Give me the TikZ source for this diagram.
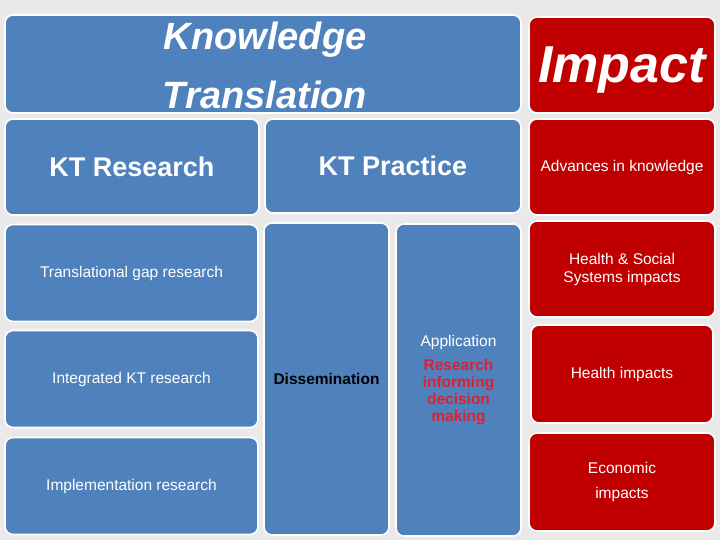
\documentclass[tikz,border=0pt]{standalone}
\usepackage{fontspec}
\setmainfont{Liberation Sans}
\usepackage{tikz}
\definecolor{ktblue}{RGB}{79,129,189}
\definecolor{impactred}{RGB}{192,0,0}
\definecolor{notered}{RGB}{222,32,48}
\definecolor{bggray}{RGB}{233,233,233}
\def\redline#1{\textcolor{notered}{\textbf{#1}}}

\begin{document}
\begin{tikzpicture}[x=1pt,y=-1pt]
    \tikzstyle{panel}=[rectangle,rounded corners=8pt,draw=white,line width=1.6pt,inner sep=2pt,align=center,text=white]
    \tikzstyle{kt panel}=[panel,fill=ktblue]
    \tikzstyle{impact panel}=[panel,fill=impactred,minimum width=186pt]
    \tikzstyle{title}=[font=\fontsize{38}{59}\selectfont\bfseries\itshape]
    \tikzstyle{heading}=[font=\fontsize{27}{32}\selectfont\bfseries]
    \tikzstyle{body}=[font=\fontsize{15.5}{18}\selectfont]

    % Background
    \fill[bggray] (0,0) rectangle (720,540);

    % Draw the title row
    \node[kt panel,title,minimum width=516pt,minimum height=98pt] (KT) at (263,64) {};
    \node[title,text=white,align=center] (KT-text) at (265,65) {Knowledge\\Translation};
    \node[impact panel,font=\fontsize{52}{56}\selectfont\bfseries\itshape,text depth=0pt,minimum height=96pt] (Impact) at (622,65)
        {Impact};

    % Draw the heading row
    \node[kt panel,heading,minimum width=254pt,minimum height=96pt] (KTR) at (132,167) {KT Research};
    \node[kt panel,heading,minimum width=256pt,minimum height=94pt] (KTP) at (393,166) {KT Practice};
    \node[impact panel,body,minimum height=96pt] (Adv) at (622,167) {Advances in knowledge};

    % Draw the research column
    \foreach \name/\y/\txt in {TG/273/Translational gap research,
                               IKT/379/Integrated KT research,
                               Impl/486/Implementation research}
        \node[kt panel,body,minimum width=253pt,minimum height=97pt] (\name) at (131.5,\y) {\txt};

    % Draw the practice columns
    \node[kt panel,body,text=black,font=\fontsize{15.5}{18}\selectfont\bfseries,minimum width=125pt,minimum height=312pt] (Diss) at (326.5,379) {Dissemination};
    \node[kt panel,font=\fontsize{15.5}{17}\selectfont,minimum width=125pt,minimum height=312pt] (App) at (458.5,380)
        {Application\\[7pt]\redline{Research}\\\redline{informing}\\\redline{decision}\\\redline{making}};

    % Draw the impact column
    \node[impact panel,body,minimum height=96pt] (HS) at (622,269) {Health \& Social\\Systems impacts};
    \node[impact panel,body,minimum width=182pt,minimum height=98pt] (HI) at (622,374) {Health impacts};
    \node[impact panel,font=\fontsize{15.5}{25}\selectfont,minimum height=98pt] (Eco) at (622,482) {Economic\\impacts};
\end{tikzpicture}
\end{document}
